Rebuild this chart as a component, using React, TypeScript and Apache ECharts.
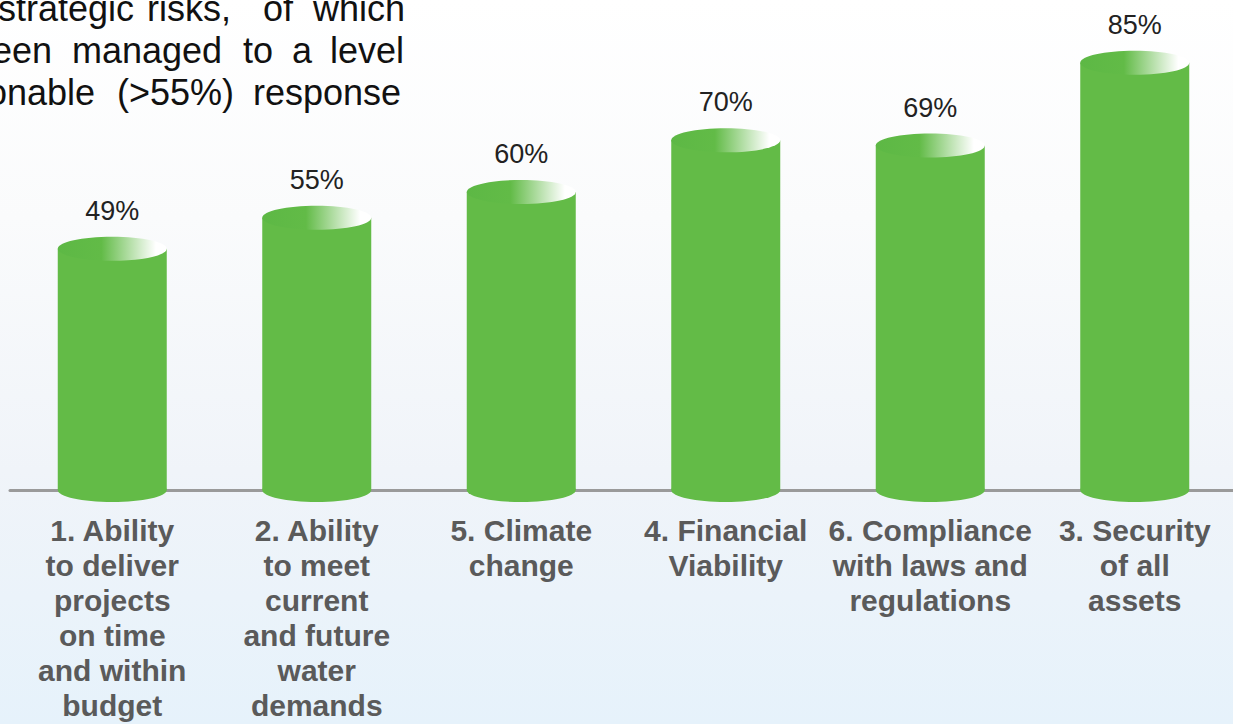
import React, { useEffect, useRef } from "react";
import * as echarts from "echarts";

const categories = [
  "1. Ability\nto deliver\nprojects\non time\nand within\nbudget",
  "2. Ability\nto meet\ncurrent\nand future\nwater\ndemands",
  "5. Climate\nchange",
  "4. Financial\nViability",
  "6. Compliance\nwith laws and\nregulations",
  "3. Security\nof all\nassets",
];
const values = [49, 55, 60, 70, 69, 85];
const valueLabels = ["49%", "55%", "60%", "70%", "69%", "85%"];

const noteLines = [
  ["strategic", "risks,", "of", "which"],
  ["een", "managed", "to", "a", "level"],
  ["onable", "(>55%)", "response"],
];
const noteWordX = [
  [-2, 147, 263, 313],
  [-8, 72, 243, 292, 330],
  [-13, 117, 253],
];
const noteLineY = [8, 50, 92];

const FONT = '"Liberation Sans", Arial, Helvetica, sans-serif';
const GREEN = "#63bb47";

export default function App() {
  const ref = useRef<HTMLDivElement>(null);
  useEffect(() => {
    if (!ref.current) return;
    const chart = echarts.init(ref.current, null, { renderer: "svg" });
    const graphics: any[] = [];
    noteLines.forEach((words, li) => {
      words.forEach((w, wi) => {
        graphics.push({
          type: "text",
          x: noteWordX[li][wi],
          y: noteLineY[li],
          style: {
            text: w,
            fill: "#111",
            fontSize: 36,
            fontFamily: FONT,
            textAlign: "left",
            textVerticalAlign: "middle",
          },
        });
      });
    });
    chart.setOption({
      animation: false,
      grid: { left: 10, width: 1227, top: 25, bottom: 234, outerBoundsMode: "none", containLabel: false },
      xAxis: {
        type: "category",
        data: categories,
        axisLine: { show: true, lineStyle: { color: "#9a9a9a", width: 3 } },
        axisTick: { show: false },
        axisLabel: {
          interval: 0,
          margin: 23,
          color: "#5a5a5a",
          fontWeight: "bold",
          fontSize: 30,
          lineHeight: 35,
          fontFamily: FONT,
          verticalAlign: "top",
          hideOverlap: false,
        },
      },
      yAxis: { type: "value", min: 0, max: 90, show: false, splitLine: { show: false } },
      graphic: graphics,
      series: [
        {
          type: "custom",
          data: values.map((v, i) => [i, v]),
          renderItem: (params: any, api: any) => {
            const idx = api.value(0);
            const top = api.coord([idx, api.value(1)]);
            const base = api.coord([idx, 0]);
            const w = 109;
            const ry = 12;
            const cx = top[0];
            const topC = top[1] + ry;
            const baseC = base[1];
            return {
              type: "group",
              children: [
                {
                  type: "ellipse",
                  shape: { cx, cy: baseC, rx: w / 2, ry },
                  style: { fill: GREEN },
                },
                {
                  type: "rect",
                  shape: { x: cx - w / 2, y: topC, width: w, height: baseC - topC },
                  style: { fill: GREEN },
                },
                {
                  type: "ellipse",
                  shape: { cx, cy: topC, rx: w / 2, ry },
                  style: {
                    fill: new echarts.graphic.LinearGradient(0, 0, 1, 0, [
                      { offset: 0, color: "#5db845" },
                      { offset: 0.4, color: "#62bb47" },
                      { offset: 0.9, color: "#ffffff" },
                      { offset: 1, color: "#ffffff" },
                    ]),
                  },
                },
                {
                  type: "text",
                  x: cx,
                  y: top[1] - 26,
                  style: {
                    text: valueLabels[params.dataIndex],
                    fill: "#222",
                    fontSize: 27,
                    fontFamily: FONT,
                    textAlign: "center",
                    textVerticalAlign: "middle",
                  },
                },
              ],
            };
          },
        },
      ],
    });
    return () => chart.dispose();
  }, []);
  return (
    <div
      style={{
        position: "fixed",
        left: 0,
        top: 0,
        width: 1233,
        height: 724,
        background:
          "linear-gradient(180deg, #ffffff 0%, #fafbfc 30%, #f0f4f9 65%, #e6f2fb 100%)",
      }}
    >
      <div ref={ref} style={{ width: 1233, height: 724 }} />
    </div>
  );
}
